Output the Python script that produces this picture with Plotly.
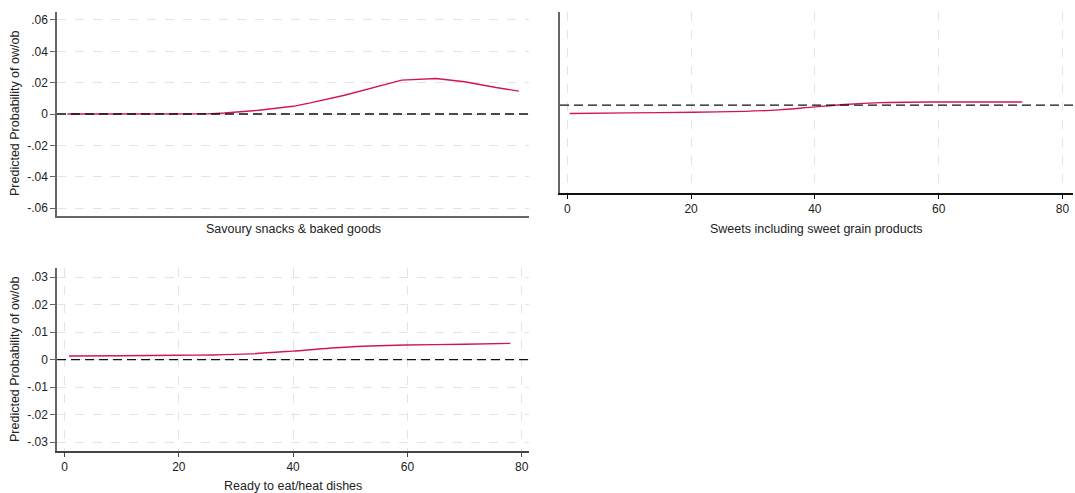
import plotly.graph_objects as go

# Predicted probability of overweight/obesity across intake levels
savoury_x = [0.5, 10, 20, 25, 28, 34, 40, 43, 49, 55, 59, 65, 70, 75.5, 79.5]
savoury_p = [0, 0, 0, 0.0001, 0.0006, 0.0024, 0.0049, 0.0071, 0.012, 0.0178,
             0.0216, 0.0227, 0.0206, 0.0169, 0.0146]

sweets_x = [0.4, 10, 20.4, 28.7, 34.2, 39.5, 44.8, 50.7, 59, 66, 73.5]
sweets_p = [-0.0028, -0.0026, -0.0024, -0.0021, -0.0016, -0.0007, 0.0002,
            0.0008, 0.001, 0.001, 0.001]

ready_x = [0.8, 10, 20, 26, 32.6, 39.9, 48.9, 59.7, 70, 78]
ready_p = [0.0013, 0.0014, 0.0016, 0.0017, 0.0021, 0.0031, 0.0045, 0.0053,
           0.0056, 0.0059]

panel_titles = ["Savoury snacks & baked goods",
                "Sweets including sweet grain products",
                "Ready to eat/heat dishes"]
y_title = "Predicted Probability of ow/ob"

x_ticks = [0, 20, 40, 60, 80]
y_ticks_top = [-0.06, -0.04, -0.02, 0, 0.02, 0.04, 0.06]
y_labels_top = ["-.06", "-.04", "-.02", "0", ".02", ".04", ".06"]
y_ticks_bottom = [-0.03, -0.02, -0.01, 0, 0.01, 0.02, 0.03]
y_labels_bottom = ["-.03", "-.02", "-.01", "0", ".01", ".02", ".03"]
reference_level = 0

W, H = 1075, 493
LINE = "#d4145a"
FONT = "Liberation Sans, Arial, sans-serif"
GRID = "#e4e4e4"


def px_x(a, b):
    return [a / W, b / W]


def px_y(top, bottom):
    return [1 - bottom / H, 1 - top / H]


fig = go.Figure()
series = [(savoury_x, savoury_p, "x", "y", "linear"),
          (sweets_x, sweets_p, "x2", "y2", "spline"),
          (ready_x, ready_p, "x3", "y3", "spline")]
for xs, ps, xa, ya, shape in series:
    fig.add_trace(go.Scatter(x=xs, y=ps, xaxis=xa, yaxis=ya, mode="lines",
                             line=dict(color=LINE, width=1.4, shape=shape,
                                       smoothing=0.8),
                             showlegend=False, hoverinfo="skip"))

tickfont = dict(family=FONT, size=12, color="#222")
common_x = dict(showline=True, zeroline=False, ticks="outside", ticklen=4,
                tickfont=tickfont, tickvals=x_ticks,
                ticktext=[str(v) for v in x_ticks],
                griddash="dash", gridcolor=GRID, gridwidth=1)
common_y = dict(showline=True, zeroline=False, ticks="outside", ticklen=5,
                tickfont=tickfont, linecolor="#666", linewidth=1.5,
                tickcolor="#666", griddash="dash", gridcolor=GRID, gridwidth=1)

fig.update_layout(
    width=W, height=H,
    margin=dict(l=0, r=0, t=0, b=0),
    paper_bgcolor="white", plot_bgcolor="white",
    font=dict(family=FONT, color="#222"),
    xaxis=dict(common_x, domain=px_x(57, 529), range=[-1.31, 81.27],
               showticklabels=False, ticks="", showgrid=False,
               linecolor="#666", linewidth=1.5, anchor="y"),
    yaxis=dict(common_y, domain=px_y(12, 216), range=[-0.0651, 0.0651],
               tickvals=y_ticks_top, ticktext=y_labels_top, showgrid=True,
               anchor="x"),
    xaxis2=dict(common_x, domain=px_x(560, 1073), range=[-1.17, 81.7],
                showgrid=True, linecolor="#111", linewidth=1.5,
                tickcolor="#111", anchor="y2"),
    yaxis2=dict(common_y, domain=px_y(12, 193), range=[-0.0293, 0.031],
                showticklabels=False, ticks="", showgrid=False, anchor="x2"),
    xaxis3=dict(common_x, domain=px_x(57, 529), range=[-1.31, 81.27],
                showgrid=True, linecolor="#444", linewidth=1.5,
                tickcolor="#444", anchor="y3"),
    yaxis3=dict(common_y, domain=px_y(268, 451), range=[-0.0332, 0.0333],
                tickvals=y_ticks_bottom, ticktext=y_labels_bottom,
                showgrid=True, anchor="x3"),
)

# dashed reference line at zero in every panel
for xa, ya in [("x", "y"), ("x2", "y2"), ("x3", "y3")]:
    fig.add_shape(type="line", xref=f"{xa} domain", yref=ya,
                  x0=0, x1=1, y0=reference_level, y1=reference_level,
                  line=dict(color="#111", width=1.3, dash="9px,5px"),
                  layer="above")

title_font = dict(family=FONT, size=12.5, color="#222")
annotations = [
    dict(text=panel_titles[0], x=293 / W, y=1 - 229 / H),
    dict(text=panel_titles[1], x=816.5 / W, y=1 - 229 / H),
    dict(text=panel_titles[2], x=293 / W, y=1 - 486 / H),
]
for a in annotations:
    fig.add_annotation(xref="paper", yref="paper", showarrow=False,
                       xanchor="center", yanchor="middle", font=title_font, **a)
for yc in (114, 360):
    fig.add_annotation(text=y_title, xref="paper", yref="paper",
                       x=15 / W, y=1 - yc / H, textangle=-90, showarrow=False,
                       xanchor="center", yanchor="middle", font=title_font)

fig.write_html("out.html")
